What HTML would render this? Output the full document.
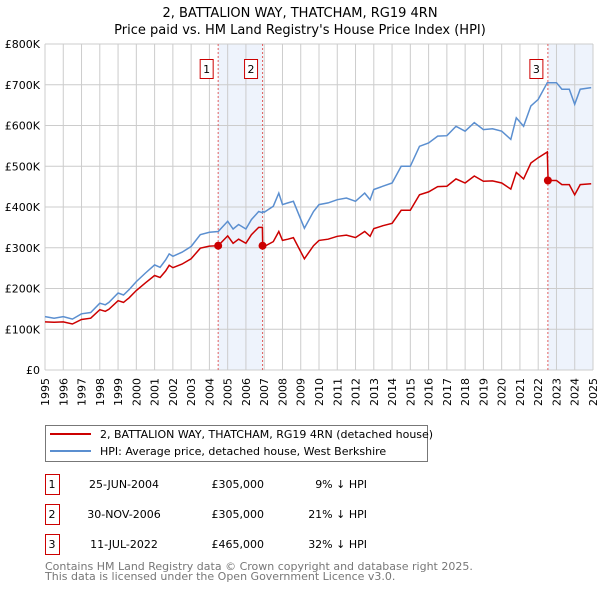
<!DOCTYPE html>
<html><head><meta charset="utf-8"><style>
body{margin:0;background:#fff;font-family:"DejaVu Sans","Liberation Sans",sans-serif;}
svg text{font-family:"DejaVu Sans","Liberation Sans",sans-serif;}
</style></head><body>
<svg id="chart" width="600" height="590" xmlns="http://www.w3.org/2000/svg">
<text x="300" y="17" text-anchor="middle" font-size="13">2, BATTALION WAY, THATCHAM, RG19 4RN</text>
<text x="300" y="34" text-anchor="middle" font-size="13">Price paid vs. HM Land Registry's House Price Index (HPI)</text>
<g id="plot"></g>
<g>
<rect x="45.5" y="425.5" width="382" height="36" fill="#fff" stroke="#777"/>
<line x1="50" y1="434" x2="91" y2="434" stroke="#cc0000" stroke-width="2"/>
<text x="100" y="438" font-size="11">2, BATTALION WAY, THATCHAM, RG19 4RN (detached house)</text>
<line x1="50" y1="451" x2="91" y2="451" stroke="#5b8fd0" stroke-width="2"/>
<text x="100" y="455" font-size="11">HPI: Average price, detached house, West Berkshire</text>
</g>
<g id="table" font-size="11"></g>
<text x="45" y="570" font-size="11" fill="#777">Contains HM Land Registry data © Crown copyright and database right 2025.</text>
<text x="45" y="580" font-size="11" fill="#777">This data is licensed under the Open Government Licence v3.0.</text>
</svg>
<script>
const dates=[1995.0,1995.5,1996.0,1996.5,1997.0,1997.5,1998.0,1998.3,1998.5,1999.0,1999.3,1999.6,2000.0,2000.5,2001.0,2001.3,2001.6,2001.8,2002.0,2002.5,2003.0,2003.5,2004.0,2004.48,2005.0,2005.3,2005.6,2006.0,2006.3,2006.7,2006.9,2006.92,2007.0,2007.5,2007.8,2008.0,2008.3,2008.6,2009.2,2009.7,2010.0,2010.5,2011.0,2011.5,2012.0,2012.5,2012.8,2013.0,2013.5,2014.0,2014.5,2015.0,2015.5,2016.0,2016.5,2017.0,2017.5,2018.0,2018.5,2019.0,2019.5,2020.0,2020.5,2020.8,2021.2,2021.6,2022.0,2022.5,2022.54,2023.0,2023.3,2023.7,2024.0,2024.3,2024.9];
const hpiValues=[131,127,131,125,138,141,164,160,166,189,184,197,217,238,258,252,270,285,279,289,303,332,338,340,365,346,357,346,369,389,386,389,387,402,434,406,410,414,348,389,406,410,418,422,414,434,418,443,451,459,500,500,549,557,574,575,598,586,607,590,592,586,566,619,598,648,664,705,705,705,689,689,652,689,693];
const priceValues=[118,117,118,113,124,127,148,144,149,170,166,177,195,214,232,227,243,257,251,260,273,299,304,305,329,311,321,311,332,350,350,305,303,315,340,318,321,325,273,305,318,321,328,331,325,340,328,347,354,360,392,392,430,437,450,451,469,459,476,463,464,459,444,485,469,508,521,535,465,465,455,455,430,455,457];
const sales=[{n:"1",t:2004.48,v:305,date:"25-JUN-2004",price:"£305,000",pct:"9% ↓ HPI"},{n:"2",t:2006.91,v:305,date:"30-NOV-2006",price:"£305,000",pct:"21% ↓ HPI"},{n:"3",t:2022.53,v:465,date:"11-JUL-2022",price:"£465,000",pct:"32% ↓ HPI"}];
const yTicks=[0,100,200,300,400,500,600,700,800];
const yTickLabels=["£0","£100K","£200K","£300K","£400K","£500K","£600K","£700K","£800K"];
const years=[1995,1996,1997,1998,1999,2000,2001,2002,2003,2004,2005,2006,2007,2008,2009,2010,2011,2012,2013,2014,2015,2016,2017,2018,2019,2020,2021,2022,2023,2024,2025];
const X0=45,X1=593,Y0=370,Y1=44;
const xs=t=>X0+(t-1995)/30*(X1-X0);
const ys=v=>Y0-v/800*(Y0-Y1);
const NS="http://www.w3.org/2000/svg";
const plot=document.getElementById('plot');
function mk(tag,attrs,parent){const e=document.createElementNS(NS,tag);for(const k in attrs)e.setAttribute(k,attrs[k]);(parent||plot).appendChild(e);return e;}
// shading
[[sales[0].t,sales[1].t],[sales[2].t,2025]].forEach((s,i)=>{
 const r=mk('rect',{x:xs(s[0]),y:Y1,width:xs(s[1])-xs(s[0]),height:Y0-Y1,fill:'#eef3fc'});
 
 
});
years.forEach(y=>{
 const l=mk('line',{x1:xs(y),x2:xs(y),y1:Y1,y2:Y0,stroke:'#ccc','stroke-width':1});
 
 
 const t=mk('text',{x:0,y:0,'font-size':11,'text-anchor':'end',transform:`translate(${xs(y)+4},${Y0+8}) rotate(-90)`});
 t.textContent=y;
 
 
});
yTicks.forEach((v,i)=>{
 const l=mk('line',{x1:X0,x2:X1,y1:ys(v),y2:ys(v),stroke:'#ccc','stroke-width':1});
 
 
 const t=mk('text',{x:40,y:ys(v)+4,'font-size':11,'text-anchor':'end'});
 t.textContent=yTickLabels[i];
 
 
});
sales.forEach(s=>{
 const l=mk('line',{x1:xs(s.t),x2:xs(s.t),y1:Y1,y2:Y0,stroke:'#e06060','stroke-dasharray':'2,2','stroke-width':1});
 
 
});
const pts=a=>dates.map((d,i)=>xs(d).toFixed(1)+','+ys(a[i]).toFixed(1)).join(' ');
const hl=mk('polyline',{points:pts(hpiValues),fill:'none',stroke:'#5b8fd0','stroke-width':1.5});


const pl=mk('polyline',{points:pts(priceValues),fill:'none',stroke:'#cc0000','stroke-width':1.5});


sales.forEach(s=>{
 const c=mk('circle',{cx:xs(s.t),cy:ys(s.v),r:4,fill:'#cc0000'});
 
 
 const b=mk('rect',{x:xs(s.t)-18,y:59.5,width:13,height:19,fill:'#fff',stroke:'#cc0000'});
 
 
 const t=mk('text',{x:xs(s.t)-11.5,y:73,'font-size':11,'text-anchor':'middle'});
 t.textContent=s.n;
 
 
});
const tb=document.getElementById('table');
sales.forEach((s,i)=>{
 const cy=484+i*30;
 const b=mk('rect',{x:45.5,y:cy-9.5,width:14,height:20,fill:'#fff',stroke:'#cc0000'},tb);
 
 
 const cells=[[52,'middle',s.n,'table-row-number'],[124,'middle',s.date,'table-date'],[264,'end',s.price,'table-price'],[367,'end',s.pct,'table-hpi-diff']];
 cells.forEach(c=>{
  const t=mk('text',{x:c[0],y:cy+4,'text-anchor':c[1],'font-size':11},tb);
  t.textContent=c[2];
  
  
 });
});
</script>
</body></html>
